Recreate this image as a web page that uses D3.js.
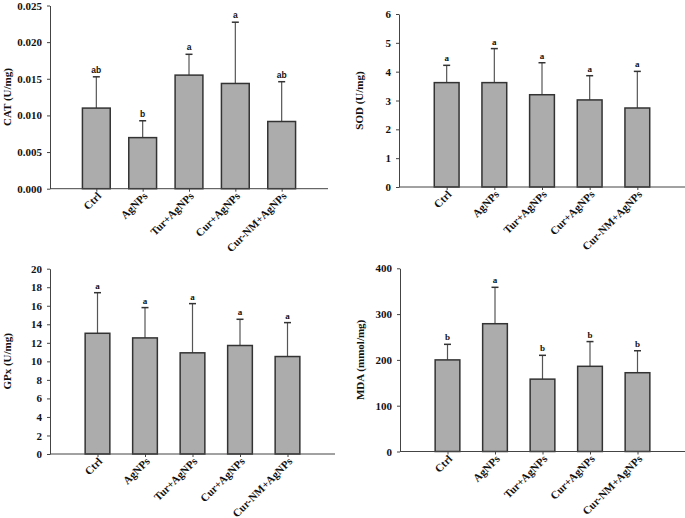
<!DOCTYPE html>
<html>
<head>
<meta charset="utf-8">
<script src="https://cdn.jsdelivr.net/npm/d3@7"></script>
<style>
  body { margin: 0; background: #fff; }
  svg { display: block; }
  text { font-family: "Liberation Serif", "Times New Roman", serif; font-weight: bold; fill: #111; }
</style>
</head>
<body>
<svg id="chart" width="685" height="518"></svg>
<script>
const categories = ["Ctrl", "AgNPs", "Tur+AgNPs", "Cur+AgNPs", "Cur-NM+AgNPs"];

const catMeans = [0.0110, 0.00697, 0.0155, 0.01436, 0.00917];
const catErrTops = [0.01527, 0.00927, 0.01834, 0.02272, 0.0146];
const catLetters = ["ab", "b", "a", "a", "ab"];
const catTicks = [0, 0.005, 0.010, 0.015, 0.020, 0.025];

const sodMeans = [3.62, 3.62, 3.20, 3.02, 2.74];
const sodErrTops = [4.22, 4.80, 4.31, 3.86, 4.01];
const sodLetters = ["a", "a", "a", "a", "a"];
const sodTicks = [0, 1, 2, 3, 4, 5, 6];

const gpxMeans = [13.03, 12.53, 10.92, 11.71, 10.52];
const gpxErrTops = [17.41, 15.80, 16.23, 14.54, 14.18];
const gpxLetters = ["a", "a", "a", "a", "a"];
const gpxTicks = [0, 2, 4, 6, 8, 10, 12, 14, 16, 18, 20];

const mdaMeans = [200, 279, 158, 186, 172];
const mdaErrTops = [234, 358.5, 210, 240, 220];
const mdaLetters = ["b", "a", "b", "b", "b"];
const mdaTicks = [0, 100, 200, 300, 400];

const svg = d3.select("#chart");

const panels = [
  { title: "CAT (U/mg)", means: catMeans, errs: catErrTops, letters: catLetters, ticks: catTicks, fmt: ".3f",
    x0: 50, x1: 328, yTop: 5.5, yBot: 188.7, titleX: 7, barFrac: 0.6, letterFont: "'Liberation Sans', Arial, sans-serif" },
  { title: "SOD (U/mg)", means: sodMeans, errs: sodErrTops, letters: sodLetters, ticks: sodTicks, fmt: "d",
    x0: 399, x1: 685, yTop: 14, yBot: 187, titleX: 359, barFrac: 0.52, letterFont: null },
  { title: "GPx (U/mg)", means: gpxMeans, errs: gpxErrTops, letters: gpxLetters, ticks: gpxTicks, fmt: "d",
    x0: 50, x1: 335, yTop: 268.7, yBot: 454, titleX: 7, barFrac: 0.52, letterFont: null },
  { title: "MDA (mmol/mg)", means: mdaMeans, errs: mdaErrTops, letters: mdaLetters, ticks: mdaTicks, fmt: "d",
    x0: 400, x1: 685, yTop: 268.3, yBot: 451.5, titleX: 360, barFrac: 0.52, letterFont: null }
];

panels.forEach(p => {
  const g = svg.append("g");
  const x = d3.scalePoint().domain(categories).range([p.x0, p.x1]).padding(1);
  const ticks = p.ticks;
  const y = d3.scaleLinear().domain([ticks[0], ticks[ticks.length - 1]]).range([p.yBot, p.yTop]);
  const bw = x.step() * p.barFrac;

  // error bars (upper only)
  const capW = 7;
  categories.forEach((c, i) => {
    const cx = x(c);
    g.append("line").attr("x1", cx).attr("x2", cx)
      .attr("y1", y(p.means[i])).attr("y2", y(p.errs[i]))
      .attr("stroke", "#555").attr("stroke-width", 1.2);
    g.append("line").attr("x1", cx - capW / 2).attr("x2", cx + capW / 2)
      .attr("y1", y(p.errs[i])).attr("y2", y(p.errs[i]))
      .attr("stroke", "#333").attr("stroke-width", 1.5);
    const t = g.append("text").attr("x", cx).attr("y", y(p.errs[i]) - 4)
      .attr("text-anchor", "middle").style("font-size", "9px").text(p.letters[i]);
    if (p.letterFont) t.style("font-family", p.letterFont).style("font-size", "8.5px");
  });

  // bars
  g.selectAll("rect.bar").data(categories).enter().append("rect")
    .attr("class", "bar")
    .attr("x", d => x(d) - bw / 2)
    .attr("width", bw)
    .attr("y", (d, i) => y(p.means[i]))
    .attr("height", (d, i) => p.yBot - y(p.means[i]))
    .attr("fill", "#acacac")
    .attr("stroke", "#333")
    .attr("stroke-width", 1.5);

  // y axis
  const yAxis = d3.axisLeft(y).tickValues(ticks).tickFormat(d3.format(p.fmt)).tickSize(3).tickSizeOuter(0).tickPadding(5);
  const ya = g.append("g").attr("transform", `translate(${p.x0},0)`).call(yAxis);
  ya.select(".domain").attr("stroke", "#444");
  ya.selectAll(".tick line").attr("stroke", "#444");
  ya.selectAll("text").style("font-size", "11px").style("font-family", "'Liberation Serif', serif").style("font-weight", "bold").attr("fill", "#111");

  // x axis
  const xAxis = d3.axisBottom(x).tickSize(3).tickSizeOuter(0);
  const xa = g.append("g").attr("transform", `translate(0,${p.yBot})`).call(xAxis);
  xa.select(".domain").attr("stroke", "#444").attr("d", `M${p.x0},0H${p.x1}`);
  xa.selectAll(".tick line").attr("stroke", "#444");
  xa.selectAll("text")
    .style("font-size", "11px").style("font-family", "'Liberation Serif', serif").style("font-weight", "bold").attr("fill", "#111")
    .attr("text-anchor", "end")
    .attr("x", 0).attr("y", 0).attr("dy", 0)
    .attr("transform", "translate(5,8) rotate(-45)");

  // y title
  g.append("text")
    .attr("transform", `translate(${p.titleX + 4},${(p.yTop + p.yBot) / 2}) rotate(-90)`)
    .attr("text-anchor", "middle")
    .style("font-size", "11px")
    .text(p.title);
});
</script>
</body>
</html>
